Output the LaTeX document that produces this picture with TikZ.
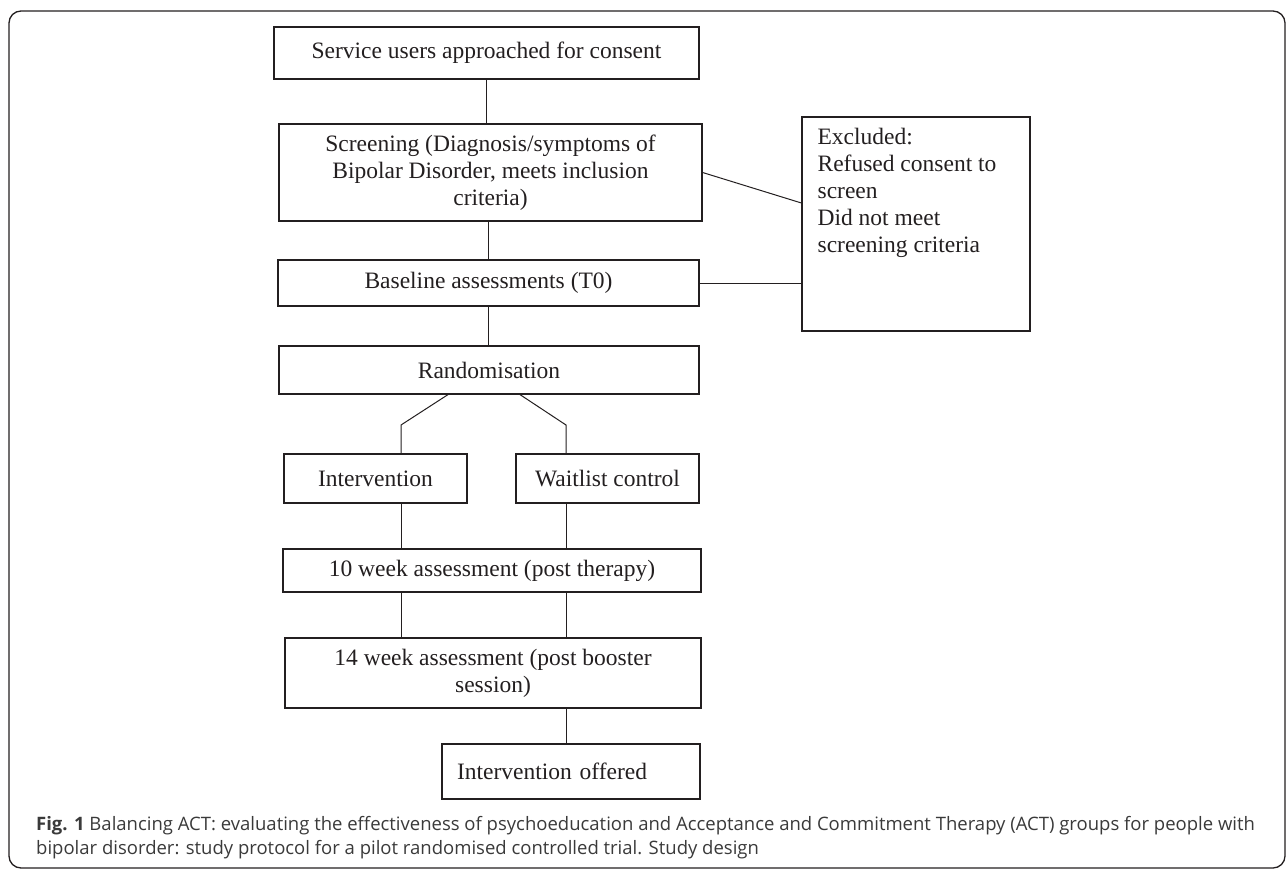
\documentclass[tikz,border=0pt]{standalone}
\usepackage{fontspec}
\setmainfont{Liberation Serif}
\newfontfamily\capfont{Open Sans}
\usepackage{tikz}
\usetikzlibrary{positioning}
\definecolor{ink}{HTML}{231F20}
\definecolor{captext}{HTML}{3A3A3A}

\begin{document}
\begin{tikzpicture}[x=1pt,y=-1pt,
  every node/.style={font=\fontsize{23.5}{27}\selectfont,text=ink},
  box/.style={draw=ink,line width=1.2pt,align=center,inner sep=0pt},
  link/.style={draw=ink,line width=1pt}]
\useasboundingbox (0,0) rectangle (1287,870);
\draw[ink,line width=1.3pt,rounded corners=12pt] (9,11) rectangle (1285,868);

% main column
\node[box,minimum width=425pt,minimum height=52pt] (consent) at (486.5,53) {Service users approached for consent};
\node[box,minimum width=423pt,minimum height=97pt] (screen) at (490.5,172.5) {Screening (Diagnosis/symptoms of\\Bipolar Disorder, meets inclusion\\criteria)};
\node[box,minimum width=421pt,minimum height=46pt] (base) at (488.5,283) {Baseline assessments (T0)};
\node[box,minimum width=420pt,minimum height=48pt] (rand) at (489,370) {Randomisation};
\node[box,minimum width=183pt,minimum height=49pt] (interv) at (375.5,478.5) {Intervention};
\node[box,minimum width=183pt,minimum height=49pt] (wait) at (607.5,478.5) {Waitlist control};
\node[box,minimum width=418pt,minimum height=43pt] (tenwk) at (492,570.5) {10 week assessment (post therapy)};
\node[box,minimum width=416pt,minimum height=70pt] (fourteenwk) at (493,673) {14 week assessment (post booster\\session)};
\node[box,minimum width=258pt,minimum height=55pt,text width=228pt,align=left,inner xsep=15pt] (offered) at (571,771.5) {Intervention offered};

% exclusions
\node[box,minimum width=228pt,minimum height=214pt] (excl) at (916,224) {};
\node[anchor=north west,align=left,inner sep=0pt] (excltext) at ([shift={(16,12)}]excl.north west) {Excluded:\\Refused consent to\\screen\\Did not meet\\screening criteria};

% arms
\coordinate (armL) at (401,425);
\coordinate (armR) at (566,425);

\draw[link] (consent.south) -- (consent.south |- screen.north);
\draw[link] ([xshift=-2pt]screen.south) -- ([xshift=-2pt]screen.south |- base.north);
\draw[link] (base.south) -- (base.south |- rand.north);
\draw[link] (screen.east) -- ([yshift=21pt]excl.west);
\draw[link] (base.east) -- (base.east -| excl.west);
\draw[link] ([xshift=-41pt]rand.south) -- (armL) -- (armL |- interv.north);
\draw[link] ([xshift=31pt]rand.south) -- (armR) -- (armR |- wait.north);
\draw[link] (armL |- interv.south) -- (armL |- tenwk.north);
\draw[link] (armR |- wait.south) -- (armR |- tenwk.north);
\draw[link] (armL |- tenwk.south) -- (armL |- fourteenwk.north);
\draw[link] (armR |- tenwk.south) -- (armR |- fourteenwk.north);
\draw[link] (armR |- fourteenwk.south) -- (armR |- offered.north);

% caption
\node[anchor=north west,align=left,inner sep=0pt,text=captext,
  font=\capfont\fontsize{18.5}{24}\selectfont] (caption) at (36,816)
  {\textbf{Fig. 1} Balancing ACT: evaluating the effectiveness of psychoeducation and Acceptance and Commitment Therapy (ACT) groups for people with\\
   bipolar disorder: study protocol for a pilot randomised controlled trial. Study design};
\end{tikzpicture}
\end{document}
